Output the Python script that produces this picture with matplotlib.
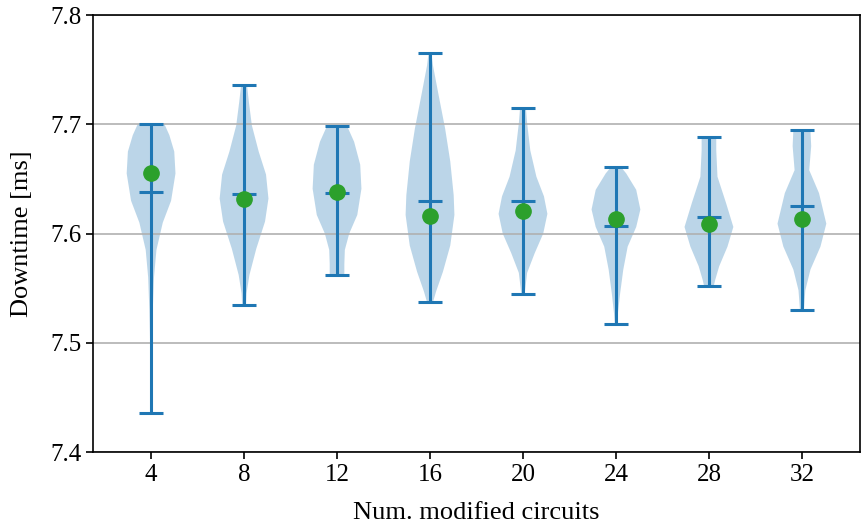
import numpy as np
import matplotlib
matplotlib.use('Agg')
import matplotlib.pyplot as plt

plt.rcParams['font.family'] = ['Liberation Serif', 'DejaVu Serif']

positions = [4, 8, 12, 16, 20, 24, 28, 32]
mins = [7.436, 7.535, 7.562, 7.537, 7.545, 7.517, 7.552, 7.530]
maxs = [7.700, 7.736, 7.698, 7.765, 7.715, 7.661, 7.688, 7.695]
medians = [7.638, 7.636, 7.637, 7.630, 7.630, 7.607, 7.615, 7.625]
means = [7.655, 7.632, 7.638, 7.616, 7.621, 7.613, 7.609, 7.613]

# violin outlines: (value, relative half-width)
shape_4 = [(7.436, 0.02), (7.47, 0.03), (7.50, 0.04), (7.53, 0.07), (7.56, 0.12),
           (7.585, 0.22), (7.61, 0.48), (7.63, 0.82), (7.655, 1.0), (7.675, 0.95),
           (7.69, 0.75), (7.700, 0.55)]
shape_8 = [(7.535, 0.08), (7.545, 0.1), (7.562, 0.22), (7.586, 0.5), (7.611, 0.86),
           (7.632, 1.0), (7.654, 0.9), (7.675, 0.6), (7.699, 0.32), (7.72, 0.2),
           (7.736, 0.12)]
shape_12 = [(7.562, 0.3), (7.572, 0.3), (7.585, 0.32), (7.600, 0.5), (7.617, 0.83),
            (7.641, 1.0), (7.663, 0.95), (7.684, 0.7), (7.698, 0.42)]
shape_16 = [(7.537, 0.12), (7.547, 0.25), (7.565, 0.53), (7.589, 0.83), (7.617, 1.0),
            (7.635, 0.97), (7.666, 0.83), (7.696, 0.62), (7.727, 0.35), (7.754, 0.12),
            (7.765, 0.06)]
shape_20 = [(7.545, 0.07), (7.564, 0.17), (7.582, 0.48), (7.600, 0.83), (7.618, 1.0),
            (7.634, 0.86), (7.652, 0.55), (7.676, 0.3), (7.701, 0.17), (7.715, 0.12)]
shape_24 = [(7.517, 0.05), (7.527, 0.08), (7.545, 0.17), (7.567, 0.3), (7.588, 0.48),
            (7.606, 0.83), (7.622, 1.0), (7.640, 0.83), (7.655, 0.42), (7.661, 0.2)]
shape_28 = [(7.552, 0.2), (7.557, 0.25), (7.570, 0.42), (7.588, 0.76), (7.606, 1.0),
            (7.628, 0.7), (7.652, 0.35), (7.676, 0.3), (7.688, 0.3)]
shape_32 = [(7.530, 0.08), (7.548, 0.14), (7.567, 0.35), (7.588, 0.76), (7.609, 1.0),
            (7.637, 0.7), (7.658, 0.3), (7.680, 0.38), (7.695, 0.35)]
shapes = [shape_4, shape_8, shape_12, shape_16, shape_20, shape_24, shape_28, shape_32]

vpstats = []
for shp, lo, hi, med, mu in zip(shapes, mins, maxs, medians, means):
    arr = np.array(shp)
    vpstats.append({'coords': arr[:, 0], 'vals': arr[:, 1],
                    'min': lo, 'max': hi, 'median': med, 'mean': mu})

fig = plt.figure(figsize=(8.64, 5.27), dpi=100)
ax = fig.add_axes([0.1076, 0.1423, 0.8878, 0.8292])

parts = ax.violin(vpstats, positions=positions, widths=2.1,
                  showmeans=False, showextrema=True, showmedians=True)
for body in parts['bodies']:
    body.set_facecolor('C0')
    body.set_edgecolor('none')
    body.set_alpha(0.3)
for key in ['cmins', 'cmaxes', 'cbars', 'cmedians']:
    parts[key].set_color('C0')
    parts[key].set_linewidth(2.2)

ax.plot(positions, means, 'o', color='C2', markersize=11, zorder=3)

ax.set_xlim(1.5, 34.5)
ax.set_ylim(7.4, 7.8)
ax.set_xticks(positions)
ax.set_yticks([7.4, 7.5, 7.6, 7.7, 7.8])
ax.yaxis.grid(True, color='#b0b0b0', linewidth=1.2)
ax.tick_params(labelsize=18, length=5, width=1.2)
for sp in ax.spines.values():
    sp.set_linewidth(1.2)
ax.set_xlabel('Num. modified circuits', fontsize=19, labelpad=12)
ax.set_ylabel('Downtime [ms]', fontsize=19, labelpad=12)

plt.savefig('out.png', dpi=100)
